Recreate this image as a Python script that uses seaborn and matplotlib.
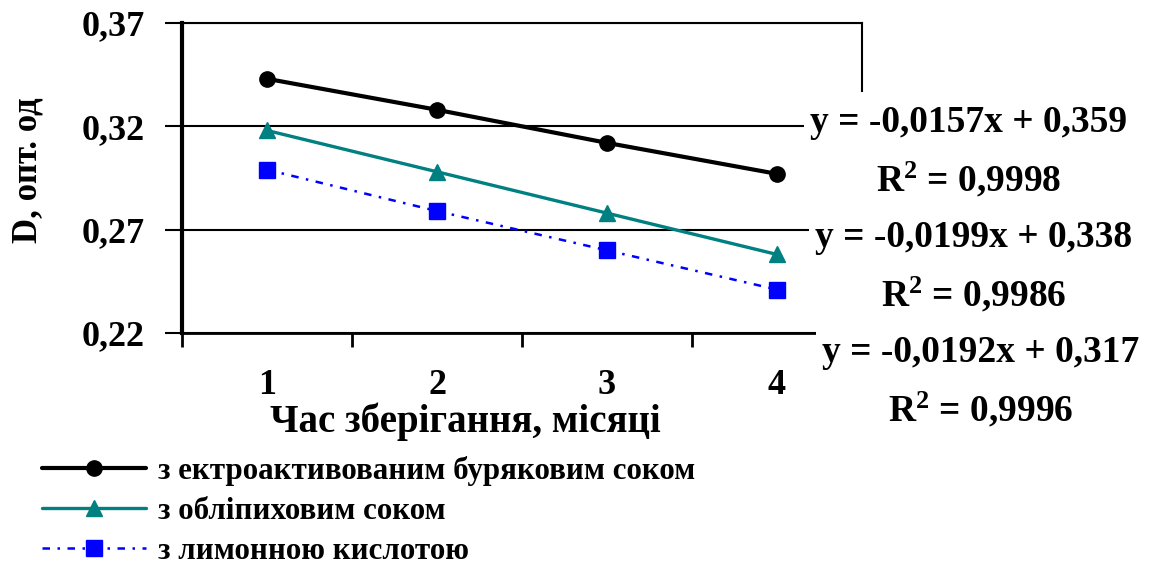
import numpy as np
import pandas as pd
import matplotlib
matplotlib.use("Agg")
import matplotlib.pyplot as plt
import seaborn as sns
from matplotlib.ticker import FixedLocator, FuncFormatter

# Storage time, months
months = [1, 2, 3, 4]
# Optical density of the samples
beet = [0.343, 0.328, 0.312, 0.297]
buckthorn = [0.318, 0.298, 0.278, 0.258]
citric = [0.299, 0.279, 0.260, 0.241]

series_names = [
    "з ектроактивованим буряковим соком",
    "з обліпиховим соком",
    "з лимонною кислотою",
]
# Linear trend parameters per series
slopes = [-0.0157, -0.0199, -0.0192]
intercepts = [0.359, 0.338, 0.317]
r_squared = [0.9998, 0.9986, 0.9996]

y_ticks = [0.22, 0.27, 0.32, 0.37]
x_label = "Час зберігання, місяці"
y_label = "D, опт. од"

df = pd.DataFrame({
    "month": months * 3,
    "D": beet + buckthorn + citric,
    "series": np.repeat(series_names, len(months)),
})

sns.set_theme(style="white")
plt.rcParams["font.family"] = ["Liberation Serif", "DejaVu Serif"]
plt.rcParams["font.weight"] = "bold"
plt.rcParams["text.color"] = "black"
plt.rcParams["axes.labelcolor"] = "black"
plt.rcParams["mathtext.fontset"] = "custom"
plt.rcParams["mathtext.rm"] = "Liberation Serif:bold"
plt.rcParams["mathtext.it"] = "Liberation Serif:bold"
plt.rcParams["mathtext.bf"] = "Liberation Serif:bold"

W, H = 1158, 565
fig = plt.figure(figsize=(W / 100, H / 100), dpi=100)
ax = fig.add_axes([182 / W, 1 - 333 / H, 680 / W, 310 / H])

styles = [
    dict(color="black", marker="o", lw=3.0, ms=11, linestyle="-"),
    dict(color="#008080", marker="^", lw=2.4, ms=12, linestyle="-"),
    dict(color="#0000FF", marker="s", lw=1.8, ms=11, linestyle=(0, (3, 3, 1, 3))),
]
for name, st in zip(series_names, styles):
    sns.lineplot(
        data=df[df["series"] == name], x="month", y="D", ax=ax,
        color=st["color"], marker=st["marker"], lw=st["lw"],
        markersize=st["ms"], linestyle=st["linestyle"],
        markeredgecolor=st["color"], markeredgewidth=1,
        label=name, legend=False,
    )

ax.set_xlim(0.5, 4.5)
ax.set_ylim(y_ticks[0], y_ticks[-1])

ax.xaxis.set_major_locator(FixedLocator(months))
ax.xaxis.set_minor_locator(FixedLocator([m - 0.5 for m in months] + [months[-1] + 0.5]))
ax.yaxis.set_major_locator(FixedLocator(y_ticks))
ax.yaxis.set_major_formatter(FuncFormatter(lambda v, p: f"{v:.2f}".replace(".", ",")))

ax.tick_params(axis="x", which="major", length=0, pad=26, labelsize=26, colors="black")
ax.tick_params(axis="x", which="minor", bottom=True, length=10, width=2,
               direction="out", color="black")
ax.tick_params(axis="y", left=True, length=12, width=1.5, direction="out",
               pad=15, labelsize=26, colors="black")

ax.yaxis.grid(True, color="black", lw=1.5)
ax.xaxis.grid(False)

for side, lw in [("left", 3), ("bottom", 2), ("top", 1.5), ("right", 1.5)]:
    ax.spines[side].set_color("black")
    ax.spines[side].set_linewidth(lw)
ax.spines["right"].set_bounds(0.337, 0.37)

ax.set_xlabel(x_label, fontsize=28, fontweight="bold", color="black")
ax.set_ylabel(y_label, fontsize=25, fontweight="bold", color="black")
ax.xaxis.set_label_coords(0.416, -0.225)
ax.yaxis.set_label_coords(-0.2015, 0.526)


def fmt(v, nd):
    return f"{v:.{nd}f}".replace(".", ",")


label_pos = [(969, 152), (974, 267), (981, 382)]
for (px, py), s, b, r2 in zip(label_pos, slopes, intercepts, r_squared):
    txt = f"y = {fmt(s, 4)}x + {fmt(b, 3)}\nR$^2$ = {fmt(r2, 4)}"
    fig.text(px / W, 1 - py / H, txt, ha="center", va="center",
             multialignment="center", fontsize=27, linespacing=1.65,
             fontweight="bold",
             bbox=dict(facecolor="white", edgecolor="none", pad=4.5))

handles, labels = ax.get_legend_handles_labels()
fig.legend(handles, labels, loc="upper left", bbox_to_anchor=(42 / W, 1 - 456 / H),
           frameon=False, prop=dict(size=22.3, weight="bold"), handlelength=3.35,
           handletextpad=0.4, labelspacing=0.36, borderpad=0, borderaxespad=0,
           numpoints=1)

fig.savefig("out.png", dpi=100)
